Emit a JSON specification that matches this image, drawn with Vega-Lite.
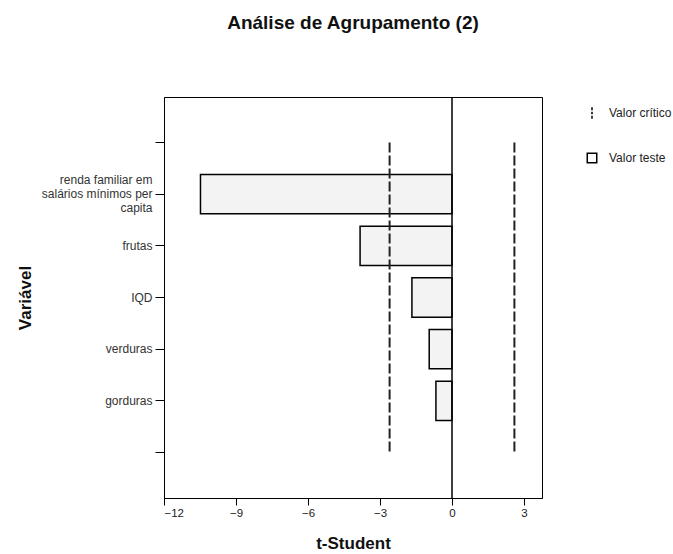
{
  "$schema": "https://vega.github.io/schema/vega-lite/v6.json",
  "width": 378,
  "height": 401,
  "autosize": "none",
  "padding": {"left": 164, "top": 97, "right": 131, "bottom": 56},
  "background": "white",
  "config": {
    "font": "Liberation Sans",
    "view": {"stroke": "black", "strokeWidth": 1}
  },
  "title": {
    "text": "Análise de Agrupamento (2)",
    "fontSize": 19,
    "fontWeight": "bold",
    "color": "#111",
    "offset": 63,
    "anchor": "middle"
  },
  "datasets": {
    "bars": [
      {"var": "renda familiar em salários mínimos per capita", "t": -10.48},
      {"var": "frutas", "t": -3.83},
      {"var": "IQD", "t": -1.67},
      {"var": "verduras", "t": -0.95},
      {"var": "gorduras", "t": -0.67}
    ],
    "crit": [
      {"t": -2.6, "y1": "_top", "y2": "_bottom"},
      {"t": 2.6, "y1": "_top", "y2": "_bottom"}
    ],
    "leg": [
      {"tipo": "Valor crítico"},
      {"tipo": "Valor teste"}
    ]
  },
  "layer": [
    {
      "data": {"name": "bars"},
      "mark": {"type": "bar", "fill": "#f3f3f3", "stroke": "black", "strokeWidth": 1.5},
      "encoding": {
        "x": {
          "field": "t", "type": "quantitative",
          "scale": {"domain": [-12, 3.75], "nice": false, "zero": false},
          "axis": {
            "title": "t-Student", "titleFontSize": 17, "titleFontWeight": "bold", "titleColor": "#111",
            "titlePadding": 17,
            "values": [-12, -9, -6, -3, 0, 3], "labelFontSize": 11.5, "labelColor": "#222",
            "grid": false, "domainColor": "black", "tickColor": "black", "tickSize": 7,
            "labelPadding": 2
          }
        },
        "y": {
          "field": "var", "type": "nominal",
          "scale": {
            "domain": ["_top", "renda familiar em salários mínimos per capita", "frutas", "IQD", "verduras", "gorduras", "_bottom"],
            "paddingInner": 0.24, "paddingOuter": 0.5
          },
          "axis": {
            "title": "Variável", "titleFontSize": 17, "titleFontWeight": "bold", "titleColor": "#111",
            "titlePadding": 7,
            "labelExpr": "datum.value == '_top' || datum.value == '_bottom' ? '' : (datum.value == 'renda familiar em salários mínimos per capita' ? ['renda familiar em', 'salários mínimos per', 'capita'] : datum.value)",
            "labelOffset": {"condition": {"test": "datum.value == 'renda familiar em salários mínimos per capita'", "value": -14}, "value": 0},
            "labelFontSize": 12, "labelColor": "#333", "labelLineHeight": 14,
            "domainColor": "black", "tickColor": "black", "tickSize": 9, "labelPadding": 3
          }
        }
      }
    },
    {
      "data": {"name": "crit"},
      "mark": {"type": "rule", "stroke": "#222", "strokeWidth": 2, "strokeDash": [10, 3]},
      "encoding": {
        "x": {"field": "t", "type": "quantitative"},
        "y": {"field": "y1", "type": "nominal"},
        "y2": {"field": "y2"}
      }
    },
    {
      "data": {"values": [{"z": 0}]},
      "mark": {"type": "rule", "stroke": "black", "strokeWidth": 1.5},
      "encoding": {
        "x": {"field": "z", "type": "quantitative"}
      }
    },
    {
      "data": {"name": "leg"},
      "mark": {"type": "point", "opacity": 0},
      "encoding": {
        "shape": {
          "field": "tipo", "type": "nominal",
          "scale": {
            "domain": ["Valor crítico", "Valor teste"],
            "range": ["M0,-1.2V-0.6M0,-0.25V0.25M0,0.6V1.2", "square"]
          },
          "legend": {
            "title": null, "orient": "none", "legendX": 422, "legendY": 10,
            "symbolOpacity": 1, "symbolFillColor": "white", "symbolStrokeColor": "black",
            "symbolStrokeWidth": 1.5, "symbolSize": 90, "rowPadding": 28,
            "labelFontSize": 12, "labelColor": "#222", "labelOffset": 11, "padding": 0
          }
        }
      }
    }
  ]
}
